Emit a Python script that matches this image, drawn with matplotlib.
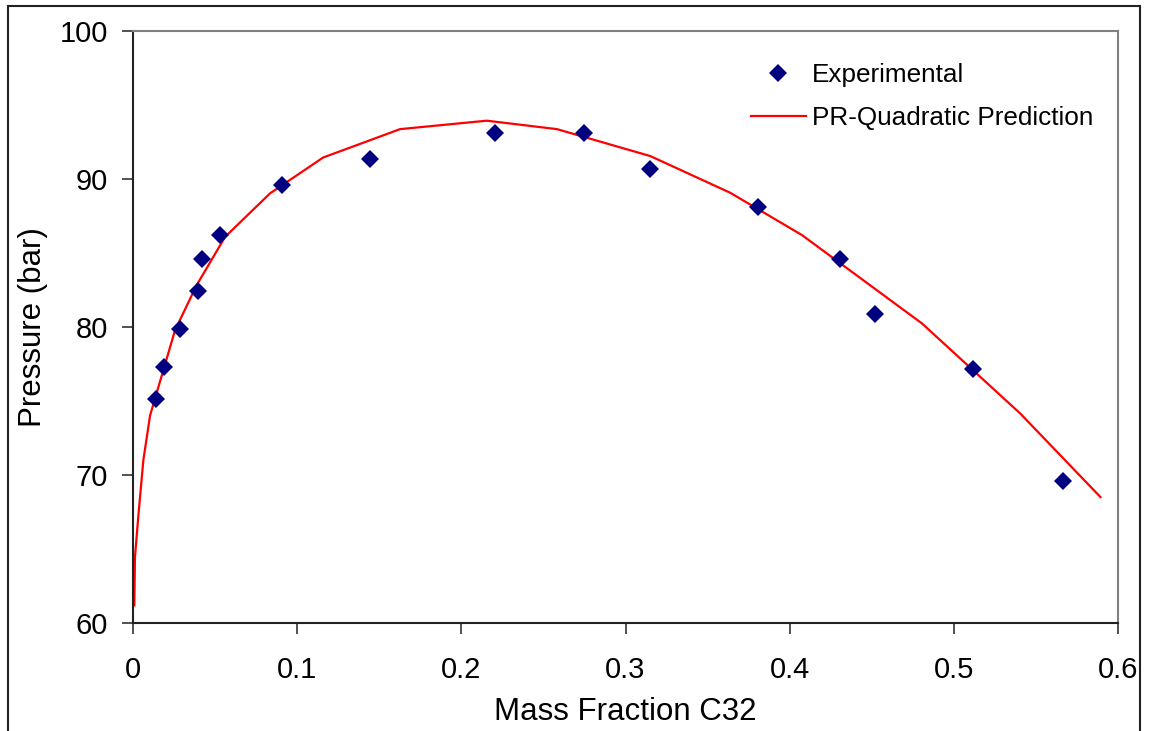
import matplotlib
matplotlib.use("Agg")
import matplotlib.pyplot as plt
from matplotlib.patches import Rectangle

plt.rcParams['font.family'] = ['Liberation Sans', 'DejaVu Sans']

# Experimental bubble-point data
exp_mass_fraction = [0.0142, 0.0189, 0.0286, 0.0396, 0.0422, 0.0532, 0.0908,
                     0.1444, 0.2204, 0.2748, 0.3151, 0.3810, 0.4308, 0.4517,
                     0.5115, 0.5663]
exp_pressure = [75.14, 77.30, 79.85, 82.42, 84.58, 86.21, 89.59,
                91.36, 93.10, 93.12, 90.67, 88.10, 84.61, 80.85,
                77.17, 69.57]

# Peng-Robinson (quadratic mixing rule) prediction
pr_mass_fraction = [0.0008, 0.0012, 0.0032, 0.0063, 0.0104, 0.0256, 0.0388,
                    0.0561, 0.0835, 0.1158, 0.1627, 0.2155, 0.2582, 0.3151,
                    0.3638, 0.4075, 0.4806, 0.5405, 0.5893]
pr_pressure = [61.19, 64.46, 67.16, 71.00, 74.02, 79.78, 82.83,
               86.09, 89.03, 91.45, 93.37, 93.94, 93.37, 91.55,
               89.07, 86.21, 80.24, 74.15, 68.51]

x_ticks = [0, 0.1, 0.2, 0.3, 0.4, 0.5, 0.6]
x_tick_labels = ['0', '0.1', '0.2', '0.3', '0.4', '0.5', '0.6']
y_ticks = [60, 70, 80, 90, 100]
y_tick_labels = ['60', '70', '80', '90', '100']

W, H = 1151, 731
fig = plt.figure(figsize=(W / 100, H / 100), dpi=100)
ax = fig.add_axes([133 / W, 1 - 623 / H, (1118 - 133) / W, (623 - 31) / H])

ax.plot(pr_mass_fraction, pr_pressure, color='#ff0000', lw=1.6,
        label='PR-Quadratic Prediction', zorder=2)
ax.plot(exp_mass_fraction, exp_pressure, linestyle='none', marker='D',
        markersize=9, color='#000080', markeredgewidth=0,
        label='Experimental', zorder=3)

ax.set_xlim(0, 0.6)
ax.set_ylim(60, 100)
ax.set_xticks(x_ticks)
ax.set_xticklabels(x_tick_labels)
ax.set_yticks(y_ticks)
ax.set_yticklabels(y_tick_labels)

ax.tick_params(axis='both', direction='out', length=8, width=1.2,
               color='#333333', labelsize=21, labelcolor='black')
ax.tick_params(axis='x', pad=16)
ax.tick_params(axis='y', pad=10)

for side in ('left', 'bottom'):
    ax.spines[side].set_color('#222222')
    ax.spines[side].set_linewidth(1.5)
for side in ('top', 'right'):
    ax.spines[side].set_color('#808080')
    ax.spines[side].set_linewidth(1.5)

ax.set_xlabel('Mass Fraction C32', fontsize=22.5)
ax.set_ylabel('Pressure (bar)', fontsize=22.5)
ax.xaxis.set_label_coords(0.5, (623 - 697) / (623 - 31))
ax.yaxis.set_label_coords((48 - 133) / (1118 - 133), 0.5)

handles, labels = ax.get_legend_handles_labels()
leg = ax.legend(handles[::-1], labels[::-1], loc='upper left',
                bbox_to_anchor=(751 / W, 1 - 63 / H),
                bbox_transform=fig.transFigure, frameon=False,
                fontsize=18.8, handlelength=2.1, handletextpad=0.25,
                labelspacing=0.72, borderpad=0, borderaxespad=0)

# Outer chart border
fig.patches.append(Rectangle((8 / W, -0.05), (1140 - 8) / W, 1.05 - 6 / H,
                             transform=fig.transFigure, fill=False,
                             edgecolor='#222222', linewidth=1.5))

fig.savefig('out.png', dpi=100, facecolor='white')
